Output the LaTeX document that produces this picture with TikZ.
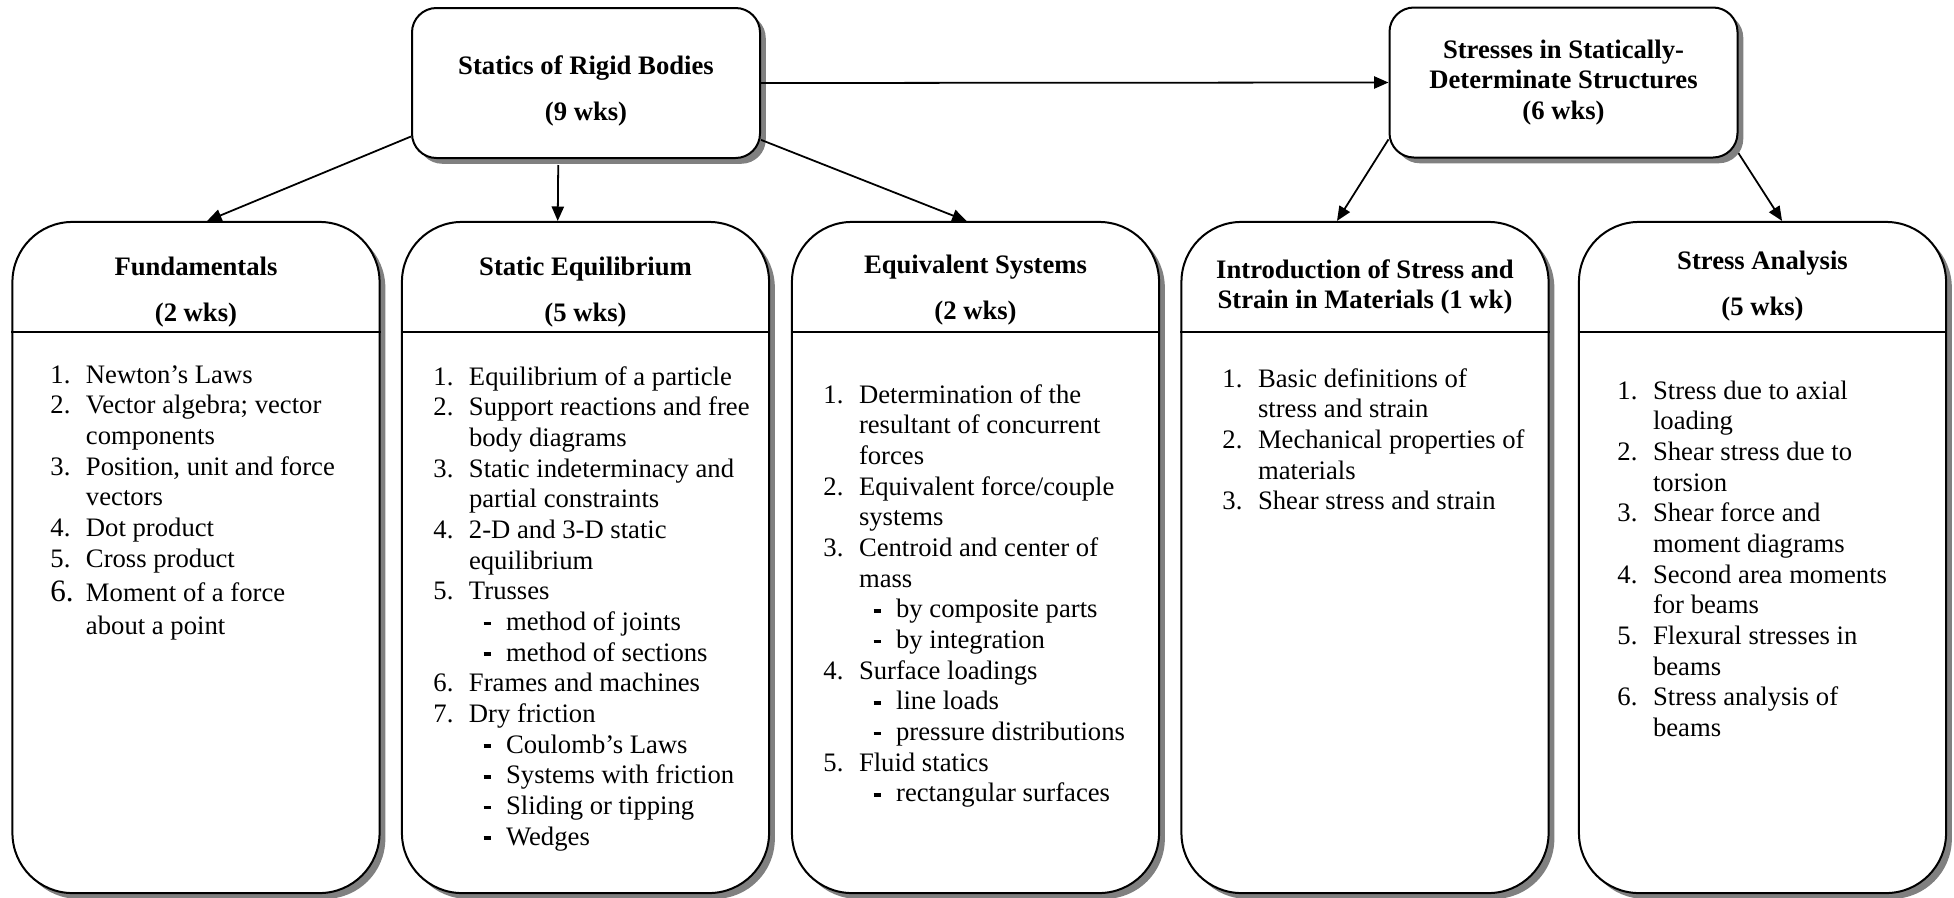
\documentclass[tikz,border=0pt]{standalone}
\usepackage{fontspec}
\setmainfont{Liberation Serif}
\usetikzlibrary{arrows.meta,shadows}

% sub-point of a list, with a bold dash
\newcommand{\subitm}[1]{& \hspace{6.6pt}\makebox[10.1pt][l]{\rule[2.3pt]{3.2pt}{1.6pt}}#1}

\begin{document}
\begin{tikzpicture}[x=0.45pt, y=-0.45pt,
    topbox/.style={draw, line width=0.9pt, fill=white, rounded corners=11pt,
      minimum width=156.6pt, minimum height=67.5pt, align=center, inner sep=0pt,
      font=\bfseries\fontsize{12}{13.8}\selectfont,
      drop shadow={shadow xshift=2.6pt, shadow yshift=-2.6pt, fill=black!50, opacity=1}},
    bigbox/.style={draw, line width=0.9pt, fill=white, rounded corners=27pt,
      minimum width=165.2pt, minimum height=302pt,
      drop shadow={shadow xshift=2.6pt, shadow yshift=-2.6pt, fill=black!50, opacity=1}},
    headtext/.style={align=center, inner sep=0pt, font=\bfseries\fontsize{12}{13.8}\selectfont},
    listtext/.style={anchor=base west, inner sep=0pt, font=\fontsize{12}{13.8}\selectfont},
    divider/.style={line width=0.9pt},
    link/.style={line width=0.8pt, -{Triangle[length=6.5pt, width=5.5pt]}}]
  \useasboundingbox (0,0) rectangle (1954,897);

  % top level
  \node[topbox] (statics) at (586,83) {};
  \node[headtext] (staticsText) at (586,91) {Statics of Rigid Bodies\\[7pt](9 wks)};
  \node[topbox] (stresses) at (1563.5,82.5) {Stresses in Statically-\\Determinate Structures\\(6 wks)};

  % lower boxes
  \node[bigbox] (fund) at (196,557.5) {};
  \node[bigbox] (equil) at (585.5,557.5) {};
  \node[bigbox] (equiv) at (975.5,557.5) {};
  \node[bigbox] (intro) at (1365,557.5) {};
  \node[bigbox] (analysis) at (1762.5,557.5) {};

  \coordinate (divline) at (0,332);
  \foreach \b in {fund,equil,equiv,intro,analysis}
    \draw[divider] (\b.west |- divline) -- (\b.east |- divline);

  % headings
  \node[headtext] (fundHead) at (196,292) {Fundamentals\\[7pt](2 wks)};
  \node[headtext] (equilHead) at (585.5,292) {Static Equilibrium\\[7pt](5 wks)};
  \node[headtext] (equivHead) at (975.5,290) {Equivalent Systems\\[7pt](2 wks)};
  \node[headtext] (introHead) at (1365,287) {Introduction of Stress and\\Strain in Materials (1 wk)};
  \node[headtext] (analysisHead) at (1762.5,286) {Stress Analysis\\[7pt](5 wks)};

  % topic lists
  \node[listtext] (fundList) at (50,383) {\begin{tabular}[t]{@{}p{16pt}@{}l@{}}
    1. & Newton's Laws\\
    2. & Vector algebra; vector\\
       & components\\
    3. & Position, unit and force\\
       & vectors\\
    4. & Dot product\\
    5. & Cross product\\[1.9pt]
    {\fontsize{14}{13.8}\selectfont 6.} & Moment of a force\\[0.8pt]
       & about a point
  \end{tabular}};

  \node[listtext] (equilList) at (433,385) {\begin{tabular}[t]{@{}p{16pt}@{}l@{}}
    1. & Equilibrium of a particle\\
    2. & Support reactions and free\\
       & body diagrams\\
    3. & Static indeterminacy and\\
       & partial constraints\\
    4. & 2-D and 3-D static\\
       & equilibrium\\
    5. & Trusses\\
    \subitm{method of joints}\\
    \subitm{method of sections}\\
    6. & Frames and machines\\
    7. & Dry friction\\
    \subitm{Coulomb's Laws}\\
    \subitm{Systems with friction}\\
    \subitm{Sliding or tipping}\\
    \subitm{Wedges}
  \end{tabular}};

  \node[listtext] (equivList) at (823,403) {\begin{tabular}[t]{@{}p{16pt}@{}l@{}}
    1. & Determination of the\\
       & resultant of concurrent\\
       & forces\\
    2. & Equivalent force/couple\\
       & systems\\
    3. & Centroid and center of\\
       & mass\\
    \subitm{by composite parts}\\
    \subitm{by integration}\\
    4. & Surface loadings\\
    \subitm{line loads}\\
    \subitm{pressure distributions}\\
    5. & Fluid statics\\
    \subitm{rectangular surfaces}
  \end{tabular}};

  \node[listtext] (introList) at (1222,387) {\begin{tabular}[t]{@{}p{16pt}@{}l@{}}
    1. & Basic definitions of\\
       & stress and strain\\
    2. & Mechanical properties of\\
       & materials\\
    3. & Shear stress and strain
  \end{tabular}};

  \node[listtext] (analysisList) at (1617,399) {\begin{tabular}[t]{@{}p{16pt}@{}l@{}}
    1. & Stress due to axial\\
       & loading\\
    2. & Shear stress due to\\
       & torsion\\
    3. & Shear force and\\
       & moment diagrams\\
    4. & Second area moments\\
       & for beams\\
    5. & Flexural stresses in\\
       & beams\\
    6. & Stress analysis of\\
       & beams
  \end{tabular}};

  % connectors
  \draw[link] (statics.east) -- (stresses.west);
  \draw[link] (statics.197) -- ([xshift=5pt]fund.north);
  \draw[link] ([xshift=-12.5pt, yshift=-2.7pt]statics.south) -- ([xshift=-12.5pt]equil.north);
  \draw[link] (statics.-18) -- ([xshift=-4pt]equiv.north);
  \draw[link] (stresses.198) -- ([xshift=-12.6pt]intro.north);
  \draw[link] (stresses.-22) -- ([xshift=8.8pt]analysis.north);
\end{tikzpicture}
\end{document}
